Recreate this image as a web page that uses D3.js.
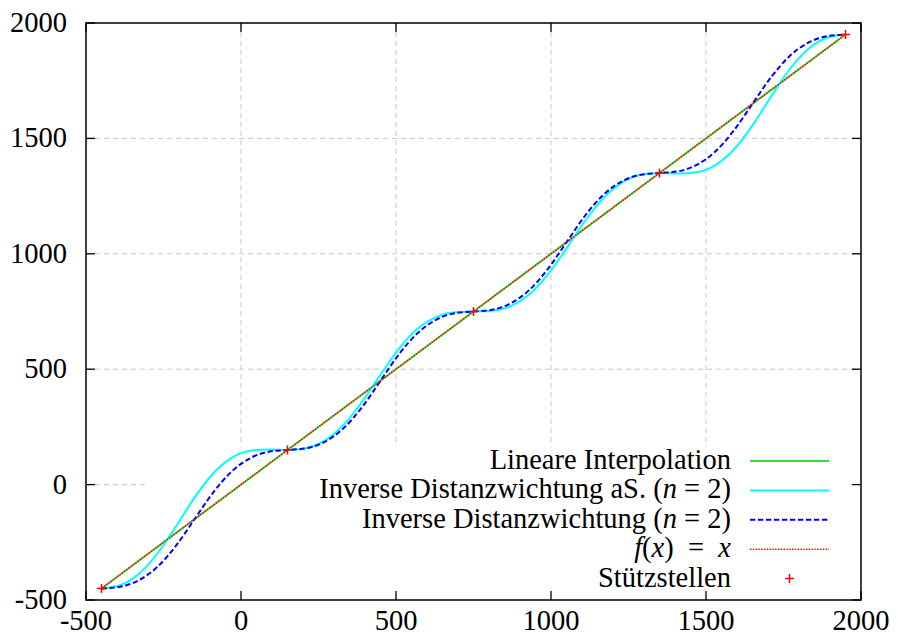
<!DOCTYPE html>
<html>
<head>
<meta charset="utf-8">
<title>Inverse Distanzwichtung</title>
<script src="https://d3js.org/d3.v7.min.js"></script>
<style>
  body { margin: 0; background: #fff; }
</style>
</head>
<body>
<svg id="chart" width="898" height="643"></svg>
<script>
// tick values
const xTicks = [-500, 0, 500, 1000, 1500, 2000];
const yTicks = [-500, 0, 500, 1000, 1500, 2000];

// Stützstellen
const stuetzX = [-450, 150, 750, 1350, 1950];
const stuetzY = [-450, 150, 750, 1350, 1950];

// f(x) = x
const identX = [-450, 1950];
const identY = [-450, 1950];

const sampleX = [-450, -390, -330, -270, -210, -150, -90, -30, 30, 90,
                 150, 210, 270, 330, 390, 450, 510, 570, 630, 690,
                 750, 810, 870, 930, 990, 1050, 1110, 1170, 1230, 1290,
                 1350, 1410, 1470, 1530, 1590, 1650, 1710, 1770, 1830, 1890, 1950];
const idwAsY = [-450, -435.8, -387.1, -299.6, -181.7, -56.6, 48.3, 116.0, 146.5, 152.1,
                150, 157.7, 190.5, 257.7, 358.0, 476.5, 589.5, 675.9, 726.8, 747.0,
                750, 753.0, 773.2, 824.1, 910.5, 1023.5, 1142.0, 1242.3, 1309.5, 1342.3,
                1350, 1347.9, 1353.5, 1384.0, 1451.7, 1556.6, 1681.7, 1799.6, 1887.1, 1935.8, 1950];
const idwY = [-450, -442.7, -414.7, -356.9, -265.4, -150, -34.6, 56.9, 114.7, 142.7,
              150, 157.3, 185.3, 243.1, 334.6, 450, 565.4, 656.9, 714.7, 742.7,
              750, 757.3, 785.3, 843.1, 934.6, 1050, 1165.4, 1256.9, 1314.7, 1342.7,
              1350, 1357.3, 1385.3, 1443.1, 1534.6, 1650, 1765.4, 1856.9, 1914.7, 1942.7, 1950];

const serif = "'Liberation Serif', 'Times New Roman', Times, 'DejaVu Serif', serif";

const svg = d3.select("#chart");
const margin = {top: 23, right: 37, bottom: 43, left: 86},
      width = +svg.attr("width") - margin.left - margin.right,
      height = +svg.attr("height") - margin.top - margin.bottom;

svg.append("rect").attr("width", 898).attr("height", 643).attr("fill", "#fff");
const g = svg.append("g").attr("transform", `translate(${margin.left},${margin.top})`)
  .attr("font-family", serif);

const x = d3.scaleLinear().domain([-500, 2000]).range([0, width]);
const y = d3.scaleLinear().domain([-500, 2000]).range([height, 0]);

// grid
const grid = g.append("g").attr("stroke", "#c8c8c8").attr("stroke-width", 1)
  .attr("stroke-dasharray", "5,4");
grid.selectAll(".gx").data(xTicks.slice(1, -1)).join("line")
  .attr("x1", d => x(d)).attr("x2", d => x(d)).attr("y1", 0).attr("y2", height);
grid.selectAll(".gy").data(yTicks.slice(1, -1)).join("line")
  .attr("y1", d => y(d)).attr("y2", d => y(d)).attr("x1", 0).attr("x2", width);

// key background hides the grid
const keyLeft = 61, keyRight = 761, keyTop = 424;
g.append("rect").attr("x", keyLeft).attr("y", keyTop)
  .attr("width", keyRight - keyLeft).attr("height", height - keyTop - 2).attr("fill", "#fff");

const zip = (xs, ys) => xs.map((v, i) => [v, ys[i]]);
const line = d3.line().x(d => x(d[0])).y(d => y(d[1]));
const smooth = d3.line().x(d => x(d[0])).y(d => y(d[1])).curve(d3.curveMonotoneX);

const styles = [
  {stroke: "#33dd33", width: 2, dash: null},
  {stroke: "#00ffff", width: 2, dash: null},
  {stroke: "#0000ff", width: 2, dash: "5.3,2.7"},
  {stroke: "#ff0000", width: 1.5, dash: "1.4,1.4"}
];

g.append("path").datum(zip(stuetzX, stuetzY)).attr("d", line)
  .attr("fill", "none").attr("stroke", styles[0].stroke).attr("stroke-width", styles[0].width);
g.append("path").datum(zip(sampleX, idwAsY)).attr("d", smooth)
  .attr("fill", "none").attr("stroke", styles[1].stroke).attr("stroke-width", styles[1].width);
g.append("path").datum(zip(sampleX, idwY)).attr("d", smooth)
  .attr("fill", "none").attr("stroke", styles[2].stroke).attr("stroke-width", styles[2].width)
  .attr("stroke-dasharray", styles[2].dash);
g.append("path").datum(zip(identX, identY)).attr("d", line)
  .attr("fill", "none").attr("stroke", styles[3].stroke).attr("stroke-width", styles[3].width)
  .attr("stroke-dasharray", styles[3].dash);

const plus = (sel, cx, cy) => {
  sel.append("path").attr("d", `M${cx - 4.5},${cy}H${cx + 4.5}M${cx},${cy - 4.5}V${cy + 4.5}`)
    .attr("stroke", "#ff0000").attr("stroke-width", 1.5).attr("fill", "none");
};
zip(stuetzX, stuetzY).forEach(d => plus(g, x(d[0]), y(d[1])));

// border and inward ticks
g.append("rect").attr("width", width).attr("height", height)
  .attr("fill", "none").attr("stroke", "#000").attr("stroke-width", 1.5);
const tl = 9;
const ticks = g.append("g").attr("stroke", "#000").attr("stroke-width", 1.3);
xTicks.forEach(v => {
  ticks.append("line").attr("x1", x(v)).attr("x2", x(v)).attr("y1", height).attr("y2", height - tl);
  ticks.append("line").attr("x1", x(v)).attr("x2", x(v)).attr("y1", 0).attr("y2", tl);
});
yTicks.forEach(v => {
  ticks.append("line").attr("y1", y(v)).attr("y2", y(v)).attr("x1", 0).attr("x2", tl);
  ticks.append("line").attr("y1", y(v)).attr("y2", y(v)).attr("x1", width).attr("x2", width - tl);
});

const fs = 28.5;
g.selectAll(".xl").data(xTicks).join("text")
  .attr("x", d => x(d)).attr("y", height + 30).attr("text-anchor", "middle")
  .attr("font-size", fs).text(d => d);
g.selectAll(".yl").data(yTicks).join("text")
  .attr("x", -19).attr("y", d => y(d) + 9).attr("text-anchor", "end")
  .attr("font-size", fs).text(d => d);

// key
const keyTextX = 645, keySampleX1 = 664, keySampleX2 = 743, keyRow0 = 438, keyStep = 29.4;
const keyItems = [
  [["Lineare Interpolation", false]],
  [["Inverse Distanzwichtung aS. (", false], ["n", true], [" = 2)", false]],
  [["Inverse Distanzwichtung (", false], ["n", true], [" = 2)", false]],
  [["f", true], ["(", false], ["x", true], [")\u2002=\u2002", false], ["x", true]],
  [["Stützstellen", false]]
];
keyItems.forEach((parts, i) => {
  const ry = keyRow0 + i * keyStep;
  const t = g.append("text").attr("x", keyTextX).attr("y", ry + 8)
    .attr("text-anchor", "end").attr("font-size", fs).attr("xml:space", "preserve");
  parts.forEach(p => t.append("tspan").attr("font-style", p[1] ? "italic" : "normal").text(p[0]));
  if (i < 4) {
    g.append("line").attr("x1", keySampleX1).attr("x2", keySampleX2).attr("y1", ry).attr("y2", ry)
      .attr("stroke", styles[i].stroke).attr("stroke-width", styles[i].width)
      .attr("stroke-dasharray", styles[i].dash);
  } else {
    plus(g, (keySampleX1 + keySampleX2) / 2, ry);
  }
});
</script>
</body>
</html>
